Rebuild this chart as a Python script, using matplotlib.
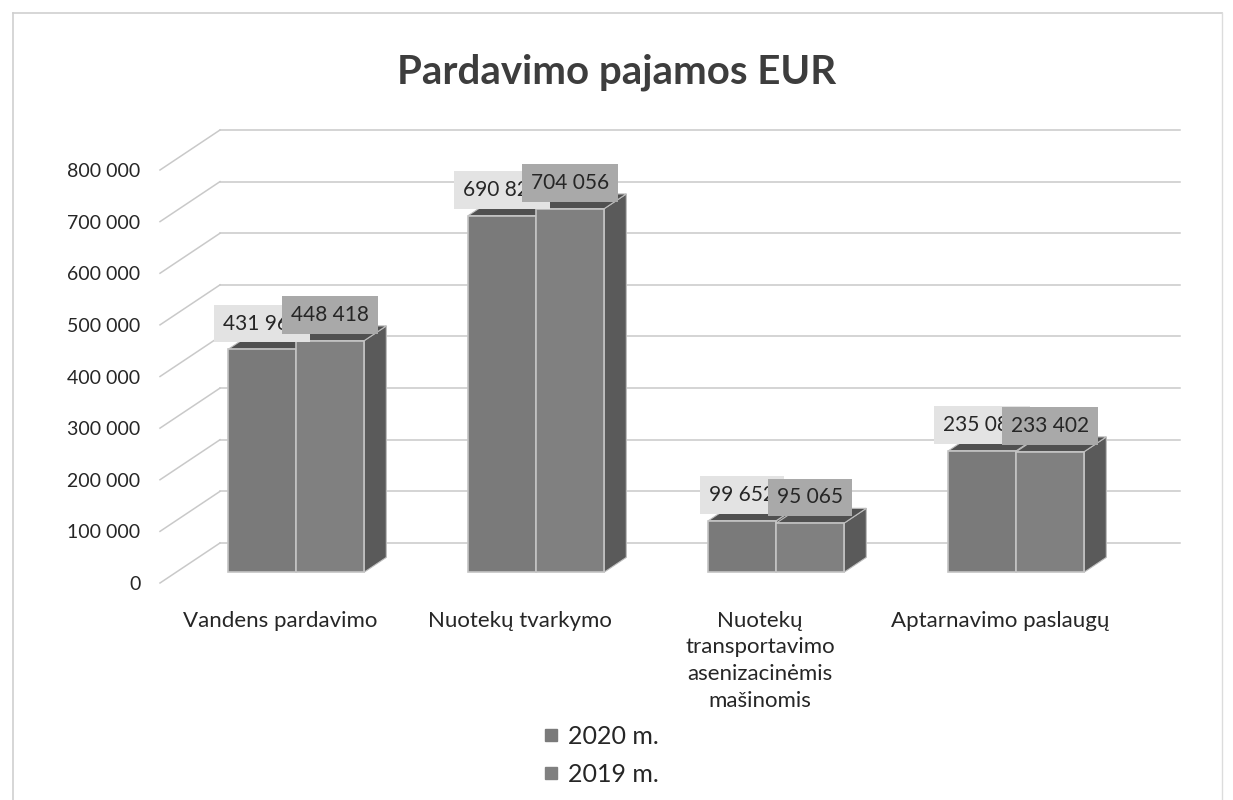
import matplotlib
matplotlib.use("Agg")
import matplotlib.pyplot as plt
from matplotlib.patches import Polygon
from matplotlib.lines import Line2D

plt.rcParams['font.family'] = ['Lato', 'DejaVu Sans']

# ---------------- data ----------------
title = "Pardavimo pajamos EUR"
categories = ["Vandens pardavimo", "Nuotekų tvarkymo",
              "Nuotekų\ntransportavimo\nasenizacinėmis\nmašinomis",
              "Aptarnavimo paslaugų"]
series_names = ["2020 m.", "2019 m."]
values_2020 = [431962, 690821, 99652, 235081]
values_2019 = [448418, 704056, 95065, 233402]
y_ticks = [0, 100000, 200000, 300000, 400000, 500000, 600000, 700000, 800000]

# ---------------- style / layout ----------------
front_colors = ["#7a7a7a", "#808080"]
side_color = "#5a5a5a"
top_color = "#505050"
label_box_colors = ["#e3e3e3", "#a9a9a9"]
grid_color = "#c9c9c9"
text_color = "#262626"

DX, DY = 0.25, 77500.0      # full depth projection (category units, value units)
d0, d1 = 0.27, 0.64         # bar front / back depth fraction
bar_w = 0.283

W, H = 1233, 800
fig = plt.figure(figsize=(W / 100, H / 100), dpi=100)
ax = fig.add_axes([160 / W, 1 - 583 / H, 1020 / W, (583 - 130) / H])
ax.set_xlim(-0.5, 3.5 + DX)
ax.set_ylim(0, y_ticks[-1] + DY)
for s in ax.spines.values():
    s.set_visible(False)

# gridlines: left wall diagonals + back wall horizontals
for v in y_ticks:
    ax.plot([-0.5, -0.5 + DX], [v, v + DY], color=grid_color, lw=1.1, zorder=0, clip_on=False)
    ax.plot([-0.5 + DX, 3.5 + DX], [v + DY, v + DY], color=grid_color, lw=1.1, zorder=0, clip_on=False)

# bars (pseudo 3D)
series = [values_2020, values_2019]
ddx, ddy = (d1 - d0) * DX, (d1 - d0) * DY
base = d0 * DY
z = 2
for i in range(len(categories)):
    for j, vals in enumerate(series):
        v = vals[i]
        x0 = i - bar_w + j * bar_w + d0 * DX
        x1 = x0 + bar_w
        side = Polygon([(x1, base), (x1, base + v), (x1 + ddx, base + v + ddy), (x1 + ddx, base + ddy)],
                       closed=True, facecolor=side_color, edgecolor="#bdbdbd", lw=0.8, zorder=z)
        top = Polygon([(x0, base + v), (x1, base + v), (x1 + ddx, base + v + ddy), (x0 + ddx, base + v + ddy)],
                      closed=True, facecolor=top_color, edgecolor="#bdbdbd", lw=0.8, zorder=z)
        ax.add_patch(side)
        ax.add_patch(top)
        ax.bar(x0, v, width=bar_w, bottom=base, align='edge', color=front_colors[j],
               edgecolor="#c4c4c4", linewidth=1.2, zorder=z + 0.5,
               label=series_names[j] if i == 0 else None)
        z += 1

# data labels (the 2019 box overlaps the 2020 box, as in the original)
for i in range(len(categories)):
    for j, vals in enumerate(series):
        v = vals[i]
        xc = i - bar_w + j * bar_w + d0 * DX + bar_w / 2
        ax.annotate(f"{v:,}".replace(",", " "), xy=(xc, base + v), xytext=(0, 18.5),
                    textcoords="offset points", ha="center", va="center",
                    fontsize=15, color=text_color, zorder=50 + j,
                    bbox=dict(boxstyle="square,pad=0.42", facecolor=label_box_colors[j],
                              edgecolor="none"))

# axes ticks
ax.set_yticks(y_ticks)
ax.set_yticklabels([f"{t:,}".replace(",", " ") for t in y_ticks])
ax.set_xticks(range(len(categories)))
ax.set_xticklabels(categories, linespacing=1.42)
ax.tick_params(axis="y", length=0, pad=14, labelsize=14, labelcolor=text_color)
ax.tick_params(axis="x", length=0, pad=20, labelsize=16, labelcolor=text_color)

# title
fig.text(0.5, 1 - 72 / H, title, ha="center", va="center", fontsize=29,
         fontweight="bold", color="#3d3d3d")

# legend
handles = [Line2D([0], [0], marker="s", linestyle="none", markersize=8,
                  markerfacecolor=front_colors[k], markeredgecolor=front_colors[k])
           for k in range(2)]
fig.legend(handles, series_names, loc="upper left", bbox_to_anchor=(518 / W, 1 - 702 / H),
           frameon=False, fontsize=18, handlelength=0.8, handletextpad=0.3,
           labelspacing=0.6, labelcolor=text_color)

# outer chart border
fig.add_artist(Line2D([13 / W, 1222 / W], [1 - 13 / H, 1 - 13 / H], color="#cfcfcf", lw=1.2))
fig.add_artist(Line2D([13 / W, 13 / W], [1 - 13 / H, 0], color="#cfcfcf", lw=1.2))
fig.add_artist(Line2D([1222 / W, 1222 / W], [1 - 13 / H, 0], color="#dcdcdc", lw=1.0))

fig.savefig("out.png", dpi=100, facecolor="white")
